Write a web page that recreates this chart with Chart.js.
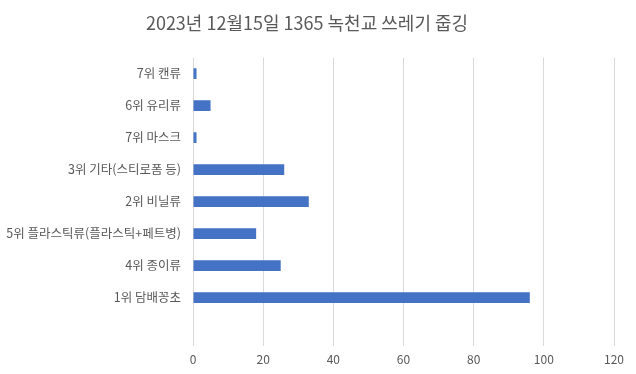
<!DOCTYPE html>
<html lang="ko">
  <head>
    <meta charset="UTF-8" />
    <title>녹천교 쓰레기 줍깅</title>
    <style>
      html, body { margin: 0; padding: 0; background: #fff; }
      #wrap { width: 636px; height: 374px; }
    </style>
  </head>
  <body>
    <div id="wrap"><canvas id="myChart" width="636" height="374"></canvas></div>

    <script src="https://cdn.jsdelivr.net/npm/chart.js@4.4.0/dist/chart.umd.min.js"></script>
    <script>
      // categories top to bottom (last slot left empty, as in the source sheet)
      var labels = [
        "7위 캔류",
        "6위 유리류",
        "7위 마스크",
        "3위 기타(스티로폼 등)",
        "2위 비닐류",
        "5위 플라스틱류(플라스틱+페트병)",
        "4위 종이류",
        "1위 담배꽁초",
        "",
      ];
      var counts = [1, 5, 1, 26, 33, 18, 25, 96, null];
      var xTicks = [0, 20, 40, 60, 80, 100, 120];

      var font = "'Noto Sans CJK KR', 'Noto Sans', sans-serif";

      var ctx = document.getElementById("myChart").getContext("2d");
      var chart = new Chart(ctx, {
        type: "bar",
        data: {
          labels: labels,
          datasets: [
            {
              data: counts,
              backgroundColor: "#4472c4",
              categoryPercentage: 1,
              barPercentage: 0.34,
            },
          ],
        },
        options: {
          indexAxis: "y",
          responsive: false,
          animation: false,
          layout: { padding: { left: 0, right: 22, top: 8, bottom: 0 } },
          plugins: {
            legend: { display: false },
            tooltip: { enabled: false },
            title: {
              display: true,
              text: "2023년 12월15일 1365 녹천교 쓰레기 줍깅",
              color: "#595959",
              font: { family: font, size: 18, weight: "normal" },
              padding: { top: 4, bottom: 24 },
            },
          },
          scales: {
            x: {
              min: xTicks[0],
              max: xTicks[xTicks.length - 1],
              ticks: {
                stepSize: 20,
                color: "#595959",
                font: { family: font, size: 12 },
                padding: 7,
              },
              grid: { color: "#d9d9d9", drawTicks: false },
              border: { display: false },
            },
            y: {
              ticks: {
                color: "#595959",
                font: { family: font, size: 12.5 },
                padding: 4,
                autoSkip: false,
              },
              grid: { display: false },
              border: { display: false },
              afterFit: function (scale) {
                scale.width = 193;
              },
            },
          },
        },
      });
    </script>
  </body>
</html>
